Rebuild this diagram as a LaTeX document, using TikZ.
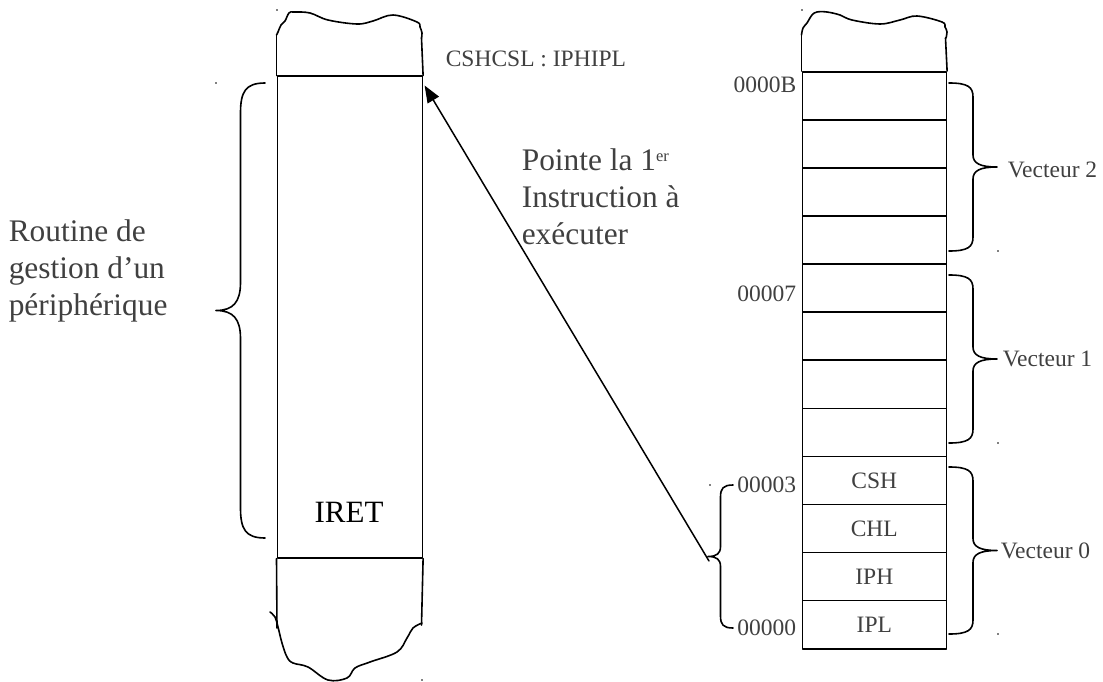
\documentclass[tikz,border=0pt]{standalone}
\usepackage{fontspec}
\setmainfont{Liberation Serif}
\usetikzlibrary{arrows.meta,calc}
\definecolor{txt}{RGB}{64,64,64}
% x, top y, bottom y, signed half amplitude, corner size end, corner size middle
\newcommand\mybrace[6]{%
  \draw ({#1},{#2}) .. controls ({#1+0.8*#4},{#2}) and ({#1+#4},{#2+0.3*#5}) .. ({#1+#4},{#2+#5})
    -- ({#1+#4},{(#2+#3)/2-#6}) .. controls ({#1+#4},{(#2+#3)/2-0.3*#6}) and ({#1+1.3*#4},{(#2+#3)/2}) .. ({#1+2*#4},{(#2+#3)/2})
    .. controls ({#1+1.3*#4},{(#2+#3)/2}) and ({#1+#4},{(#2+#3)/2+0.3*#6}) .. ({#1+#4},{(#2+#3)/2+#6})
    -- ({#1+#4},{#3-#5}) .. controls ({#1+#4},{#3-0.3*#5}) and ({#1+0.8*#4},{#3}) .. ({#1},{#3});}
\newcommand\supsmall[1]{\raisebox{9pt}{\fontsize{16.5}{16.5}\selectfont #1}}
\begin{document}
\begin{tikzpicture}[x=1pt,y=-1pt,line width=1.6pt,line join=round,line cap=round,
  big/.style={font=\fontsize{31.4}{37}\selectfont,text=txt,inner sep=0pt},
  small/.style={font=\fontsize{23.5}{27}\selectfont,text=txt,inner sep=0pt},
  cell/.style={draw,minimum width=144pt,minimum height=48.08pt,inner sep=0pt,anchor=north west,small},
  speck/.style={fill=black,draw=none}]
\useasboundingbox (0,0) rectangle (1103,682);

% ---------- left column ----------
\node[draw,minimum width=145pt,minimum height=481.5pt,anchor=north west,inner sep=0pt] (routine) at (276.5,75.5) {};
\node[font=\fontsize{31}{37}\selectfont,text=black,inner sep=0pt] (iret) at (349,512) {IRET};
\draw (routine.north west) -- (276.5,35);
\draw (routine.north east) -- (421.5,38);
\draw plot[smooth,tension=0.6] coordinates {(276.5,35) (278,32) (281,25) (285,21) (289,13) (294,12) (310,13) (328,20) (357,24) (373,21) (393,15) (417,22) (420,27) (422,33) (421.5,38)};
\draw (routine.south west) -- (277,628);
\draw (routine.south east) -- (421.5,625);
\draw plot[smooth,tension=0.6] coordinates {(270,612) (275,617) (278,627) (282,643) (287,657) (293,663) (308,667) (328,680) (347,678) (355,668) (370,662) (397,652) (407,638) (413,628) (422,623)};

\node[big,anchor=north west,align=left] (routinetxt) at (8,219) {Routine de\\gestion d’un\\périphérique};
\mybrace{265}{83}{538}{-24.5}{30}{28}

\node[small,anchor=base west] (addr) at (445,67) {CSHCSL : IPHIPL};
\node[big,anchor=north west,align=left] (pointe) at (521,147.5) {Pointe la 1\supsmall{er}\\Instruction à\\exécuter};

% ---------- right column ----------
\foreach \k/\t in {0/,1/,2/,3/,4/,5/,6/,7/,8/CSH,9/CHL,10/IPH,11/IPL}{
  \node[cell] (r\k) at (801.5,{71+48.08*\k}) {\t};
}
\draw (r0.north west) -- (801.5,35);
\draw (r0.north east) -- (945.5,38);
\draw plot[smooth,tension=0.6] coordinates {(801.5,35) (803,28) (807,23) (812,15) (817,12) (827,12) (840,15) (852,20) (880,24) (900,20) (917,16) (942,22) (945,27) (947,32) (946,38)};

\node[small,anchor=base east] (a0B) at ($(r0.north west)+(-4.5,22)$) {0000B};
\node[small,anchor=base east] (a07) at ($(r4.north west)+(-4.5,38)$) {00007};
\node[small,anchor=base east] (a03) at ($(r8.north west)+(-4.5,37)$) {00003};
\node[small,anchor=base east] (a00) at ($(r11.north west)+(-4.5,36)$) {00000};

\mybrace{949}{83}{251}{24}{14}{12}
\mybrace{949}{275}{443}{24}{14}{12}
\mybrace{949}{467}{634}{24}{14}{12}
\node[small,anchor=base west] (v2) at (1007,178) {Vecteur 2};
\node[small,anchor=base west] (v1) at (1002,366) {Vecteur 1};
\node[small,anchor=base west] (v0) at (1000,558) {Vecteur 0};

\mybrace{733}{485}{628}{-12.5}{12}{10}
\coordinate (ptr) at (709,561);
\draw[line width=1.5pt,-{Triangle[length=17pt,width=13pt]}] (ptr) -- ($(routine.north east)+(1.5,10)$);

% specks
\foreach \p in {(216,83),(277,10),(802,10),(998,251),(998,443),(998,634),(710,485),(422,680)}{
  \fill[speck] \p circle (0.9);
}
\end{tikzpicture}
\end{document}
